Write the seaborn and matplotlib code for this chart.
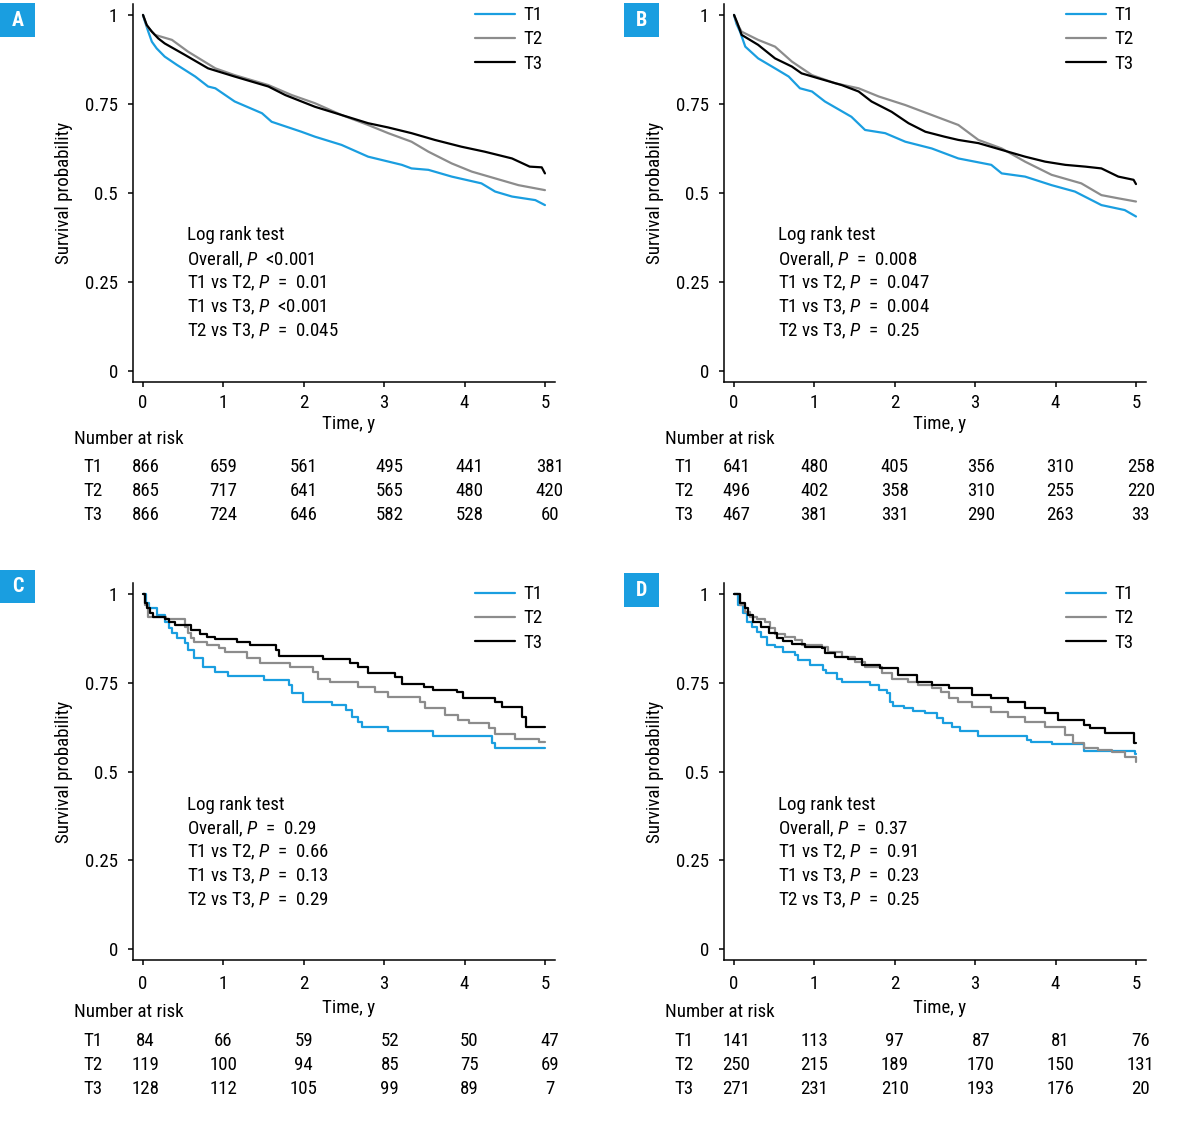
import os
import matplotlib
matplotlib.use('Agg')
import pandas as pd
import seaborn as sns
import matplotlib.pyplot as plt
from matplotlib import font_manager
from matplotlib.lines import Line2D
from matplotlib.patches import Rectangle

groups = ['T1', 'T2', 'T3']
comparisons = ['Overall', 'T1 vs T2', 'T1 vs T3', 'T2 vs T3']
x_ticks = [0, 1, 2, 3, 4, 5]
y_ticks = [0, 0.25, 0.5, 0.75, 1]
y_tick_labels = ['0', '0.25', '0.5', '0.75', '1']

# panel A
a_time_t1 = [0, 0.025, 0.066, 0.11, 0.17, 0.27, 0.42, 0.65, 0.81, 0.9, 1.14, 1.48, 1.6, 1.97, 2.14, 2.47, 2.8, 3.22, 3.34, 3.55, 3.84, 4.21, 4.38, 4.59, 4.88, 5.0]
a_surv_t1 = [1.0, 0.981, 0.953, 0.925, 0.906, 0.883, 0.86, 0.827, 0.799, 0.794, 0.757, 0.724, 0.70, 0.672, 0.658, 0.635, 0.602, 0.579, 0.569, 0.565, 0.546, 0.527, 0.504, 0.49, 0.48, 0.466]
a_time_t2 = [0, 0.05, 0.15, 0.36, 0.56, 0.9, 1.14, 1.56, 1.85, 2.14, 2.47, 2.8, 3.05, 3.34, 3.55, 3.84, 4.09, 4.38, 4.67, 5.0]
a_surv_t2 = [1.0, 0.968, 0.944, 0.93, 0.897, 0.85, 0.831, 0.803, 0.775, 0.752, 0.719, 0.691, 0.668, 0.644, 0.616, 0.583, 0.56, 0.541, 0.522, 0.508]
a_time_t3 = [0, 0.046, 0.11, 0.19, 0.27, 0.52, 0.81, 1.14, 1.56, 1.77, 2.14, 2.47, 2.8, 3.05, 3.34, 3.63, 3.96, 4.25, 4.59, 4.81, 4.96, 5.0]
a_surv_t3 = [1.0, 0.972, 0.953, 0.934, 0.92, 0.888, 0.85, 0.827, 0.799, 0.775, 0.742, 0.719, 0.696, 0.684, 0.668, 0.649, 0.63, 0.616, 0.597, 0.574, 0.572, 0.555]
a_risk_t1 = [866, 659, 561, 495, 441, 381]
a_risk_t2 = [865, 717, 641, 565, 480, 420]
a_risk_t3 = [866, 724, 646, 582, 528, 60]
a_pvals = ['<0.001', '=  0.01', '<0.001', '=  0.045']

# panel B
b_time_t1 = [0, 0.03, 0.075, 0.14, 0.3, 0.51, 0.68, 0.82, 0.97, 1.13, 1.46, 1.63, 1.88, 2.13, 2.46, 2.79, 3.2, 3.33, 3.62, 3.95, 4.24, 4.57, 4.86, 5.0]
b_surv_t1 = [1.0, 0.975, 0.953, 0.911, 0.878, 0.85, 0.827, 0.794, 0.785, 0.757, 0.714, 0.677, 0.668, 0.644, 0.625, 0.597, 0.579, 0.555, 0.546, 0.522, 0.504, 0.466, 0.452, 0.434]
b_time_t2 = [0, 0.04, 0.095, 0.3, 0.51, 0.72, 0.97, 1.26, 1.55, 1.8, 2.13, 2.46, 2.79, 3.04, 3.33, 3.62, 3.95, 4.32, 4.57, 4.78, 5.0]
b_surv_t2 = [1.0, 0.975, 0.953, 0.93, 0.911, 0.869, 0.831, 0.808, 0.794, 0.771, 0.747, 0.719, 0.691, 0.649, 0.625, 0.588, 0.551, 0.527, 0.494, 0.485, 0.476]
b_time_t3 = [0, 0.04, 0.095, 0.3, 0.51, 0.72, 0.84, 1.05, 1.34, 1.55, 1.71, 1.96, 2.17, 2.38, 2.62, 2.79, 3.04, 3.33, 3.62, 3.87, 4.12, 4.37, 4.57, 4.78, 4.97, 5.0]
b_surv_t3 = [1.0, 0.978, 0.944, 0.916, 0.878, 0.855, 0.836, 0.822, 0.803, 0.785, 0.757, 0.728, 0.696, 0.672, 0.658, 0.649, 0.64, 0.621, 0.602, 0.588, 0.579, 0.574, 0.569, 0.546, 0.537, 0.525]
b_risk_t1 = [641, 480, 405, 356, 310, 258]
b_risk_t2 = [496, 402, 358, 310, 255, 220]
b_risk_t3 = [467, 381, 331, 290, 263, 33]
b_pvals = ['=  0.008', '=  0.047', '=  0.004', '=  0.25']

# panel C (step curves)
c_time_t1 = [0, 0.04, 0.07, 0.17, 0.27, 0.32, 0.36, 0.42, 0.52, 0.56, 0.63, 0.75, 0.9, 1.06, 1.5, 1.82, 1.85, 1.99, 2.35, 2.53, 2.6, 2.68, 2.72, 3.05, 3.61, 4.34, 4.38, 5.0]
c_surv_t1 = [1.0, 0.974, 0.96, 0.941, 0.922, 0.903, 0.889, 0.877, 0.861, 0.842, 0.819, 0.795, 0.781, 0.77, 0.758, 0.744, 0.72, 0.697, 0.687, 0.673, 0.654, 0.64, 0.626, 0.614, 0.60, 0.579, 0.565, 0.565]
c_time_t2 = [0, 0.025, 0.066, 0.29, 0.52, 0.56, 0.6, 0.63, 0.79, 0.94, 1.02, 1.29, 1.46, 1.83, 2.12, 2.18, 2.33, 2.68, 2.89, 3.05, 3.45, 3.51, 3.76, 3.92, 4.05, 4.3, 4.38, 4.63, 4.92, 5.0]
c_surv_t2 = [1.0, 0.969, 0.936, 0.931, 0.908, 0.889, 0.875, 0.864, 0.856, 0.847, 0.838, 0.821, 0.805, 0.795, 0.779, 0.762, 0.753, 0.739, 0.723, 0.711, 0.697, 0.678, 0.659, 0.645, 0.636, 0.622, 0.606, 0.593, 0.582, 0.582]
c_time_t3 = [0, 0.025, 0.046, 0.087, 0.13, 0.27, 0.32, 0.4, 0.6, 0.71, 0.79, 0.9, 1.17, 1.33, 1.66, 1.69, 2.24, 2.58, 2.68, 2.8, 3.13, 3.22, 3.49, 3.61, 3.9, 3.98, 4.38, 4.46, 4.71, 4.77, 5.0]
c_surv_t3 = [1.0, 0.974, 0.96, 0.946, 0.934, 0.931, 0.922, 0.913, 0.899, 0.886, 0.878, 0.872, 0.866, 0.856, 0.842, 0.825, 0.817, 0.807, 0.795, 0.777, 0.767, 0.746, 0.737, 0.73, 0.723, 0.706, 0.697, 0.683, 0.654, 0.626, 0.626]
c_risk_t1 = [84, 66, 59, 52, 50, 47]
c_risk_t2 = [119, 100, 94, 85, 75, 69]
c_risk_t3 = [128, 112, 105, 99, 89, 7]
c_pvals = ['=  0.29', '=  0.66', '=  0.13', '=  0.29']

# panel D (step curves)
d_time_t1 = [0, 0.054, 0.116, 0.158, 0.22, 0.28, 0.34, 0.41, 0.51, 0.61, 0.76, 0.8, 0.95, 1.11, 1.15, 1.28, 1.34, 1.69, 1.8, 1.9, 1.94, 1.98, 2.11, 2.23, 2.38, 2.52, 2.6, 2.71, 2.81, 3.04, 3.64, 3.7, 3.95, 4.35, 4.99, 5.0]
d_surv_t1 = [1.0, 0.969, 0.946, 0.922, 0.908, 0.894, 0.88, 0.856, 0.852, 0.838, 0.828, 0.814, 0.80, 0.786, 0.777, 0.762, 0.751, 0.744, 0.73, 0.72, 0.697, 0.685, 0.678, 0.67, 0.664, 0.652, 0.636, 0.626, 0.615, 0.60, 0.589, 0.582, 0.577, 0.558, 0.548, 0.548]
d_time_t2 = [0, 0.075, 0.137, 0.2, 0.28, 0.39, 0.45, 0.51, 0.63, 0.76, 0.84, 1.09, 1.17, 1.34, 1.5, 1.63, 1.84, 1.96, 2.17, 2.29, 2.46, 2.58, 2.67, 2.79, 2.96, 3.2, 3.41, 3.62, 3.87, 4.12, 4.22, 4.35, 4.53, 4.7, 4.86, 5.0]
d_surv_t2 = [1.0, 0.969, 0.95, 0.936, 0.931, 0.922, 0.903, 0.886, 0.88, 0.87, 0.856, 0.852, 0.838, 0.823, 0.809, 0.795, 0.777, 0.762, 0.753, 0.744, 0.734, 0.725, 0.706, 0.695, 0.683, 0.669, 0.654, 0.64, 0.626, 0.603, 0.579, 0.565, 0.561, 0.556, 0.542, 0.528]
d_time_t3 = [0, 0.075, 0.137, 0.178, 0.24, 0.34, 0.43, 0.53, 0.61, 0.72, 0.88, 1.09, 1.13, 1.26, 1.42, 1.59, 1.82, 2.04, 2.27, 2.46, 2.67, 2.96, 3.2, 3.41, 3.62, 3.87, 4.03, 4.35, 4.43, 4.61, 4.98, 5.0]
d_surv_t3 = [1.0, 0.974, 0.96, 0.941, 0.922, 0.908, 0.889, 0.875, 0.867, 0.858, 0.852, 0.847, 0.833, 0.823, 0.817, 0.80, 0.791, 0.772, 0.753, 0.744, 0.734, 0.715, 0.706, 0.697, 0.678, 0.664, 0.645, 0.631, 0.622, 0.608, 0.579, 0.579]
d_risk_t1 = [141, 113, 97, 87, 81, 76]
d_risk_t2 = [250, 215, 189, 170, 150, 131]
d_risk_t3 = [271, 231, 210, 193, 176, 20]
d_pvals = ['=  0.37', '=  0.91', '=  0.23', '=  0.25']

BLUE = '#1a9ee0'
palette = {'T1': BLUE, 'T2': '#8c8c8c', 'T3': '#000000'}
FS = 13.6


def pick_font():
    # the original uses a condensed sans; take the narrowest one available
    fl = font_manager.fontManager.ttflist
    names = {f.name for f in fl}
    for cand in ['Liberation Sans Narrow', 'Roboto Condensed', 'DejaVu Sans Condensed', 'Open Sans Condensed']:
        if cand in names:
            return cand, 'normal'
    for f in fl:
        if f.name == 'DejaVu Sans' and 'Condensed' in os.path.basename(f.fname):
            return 'DejaVu Sans', f.stretch
    return 'Roboto', 'normal'


def set_style():
    sns.set_style("ticks", {'axes.spines.top': False, 'axes.spines.right': False})
    family, stretch = pick_font()
    plt.rcParams.update({
        'font.family': [family, 'DejaVu Sans'],
        'font.stretch': stretch,
        'mathtext.fontset': 'custom',
        'mathtext.rm': family,
        'mathtext.it': family + ':italic',
        'font.size': FS,
        'axes.edgecolor': 'black',
        'axes.labelcolor': 'black',
        'text.color': 'black',
        'xtick.color': 'black',
        'ytick.color': 'black',
        'axes.linewidth': 1.1,
        'xtick.major.width': 1.1,
        'ytick.major.width': 1.1,
        'xtick.major.size': 3.6,
        'ytick.major.size': 3.6,
        'xtick.labelsize': FS,
        'ytick.labelsize': FS,
        'axes.labelsize': FS,
    })


def km_frame(times, survs):
    rows = []
    for g, t, s in zip(groups, times, survs):
        for ti, si in zip(t, s):
            rows.append({'time': ti, 'surv': si, 'group': g})
    return pd.DataFrame(rows)


def plot_panel(fig, rect, letter, box, times, survs, steps, risk, pvals, text_y, lay):
    ax = fig.add_axes(rect)
    df = km_frame(times, survs)
    kw = {'drawstyle': 'steps-post'} if steps else {}
    sns.lineplot(data=df, x='time', y='surv', hue='group', hue_order=groups, palette=palette,
                 estimator=None, sort=False, errorbar=None, legend=False, linewidth=1.6, ax=ax, **kw)
    ax.set_xlim(-0.12, 5.12)
    ax.set_ylim(-0.03, 1.03)
    ax.set_xticks(x_ticks)
    ax.set_xticklabels([str(v) for v in x_ticks])
    ax.set_yticks(y_ticks)
    ax.set_yticklabels(y_tick_labels)
    ax.tick_params(axis='y', pad=7.5, direction='out')
    ax.tick_params(axis='x', pad=lay['tick_pad'], direction='out')
    ax.set_ylabel('Survival probability')
    ax.yaxis.set_label_coords(-0.143, 0.5)
    ax.set_xlabel('Time, y')
    ax.xaxis.set_label_coords(0.51, lay['xlabel_y'])

    handles = [Line2D([], [], color=palette[g], lw=1.6) for g in groups]
    ax.legend(handles, groups, loc='upper right', bbox_to_anchor=(0.972, 0.995), frameon=False,
              borderpad=0, borderaxespad=0, handlelength=2.1, handletextpad=0.47, labelspacing=0.33)

    lines = ['Log rank test'] + [f'{c}, $P$  {p}' for c, p in zip(comparisons, pvals)]
    for i, line in enumerate(lines):
        ax.annotate(line, xy=(0.55, text_y), xycoords='data', xytext=(0, -i * 17.3),
                    textcoords='offset points', ha='left', va='center')

    # number at risk table below the axis
    col_x = [0.03, 1.0, 2.0, 3.07, 4.06, 5.06]
    ax.annotate('Number at risk', xy=(-0.86, 0), xycoords=('data', 'axes fraction'),
                xytext=(0, lay['nar']), textcoords='offset points', ha='left', va='center',
                annotation_clip=False)
    for r, (g, counts) in enumerate(zip(groups, risk)):
        off = lay['rows'][r]
        ax.annotate(g, xy=(-0.62, 0), xycoords=('data', 'axes fraction'), xytext=(0, off),
                    textcoords='offset points', ha='center', va='center', annotation_clip=False)
        for cx, n in zip(col_x, counts):
            ax.annotate(str(n), xy=(cx, 0), xycoords=('data', 'axes fraction'), xytext=(0, off),
                        textcoords='offset points', ha='center', va='center', annotation_clip=False)

    bx, by, bw, bh = box
    fig.add_artist(Rectangle((bx, by), bw, bh, transform=fig.transFigure, color=BLUE, lw=0))
    fig.text(bx + bw / 2, by + bh / 2, letter, color='white', fontweight='bold', fontsize=14.5,
             ha='center', va='center')
    return ax


def main():
    set_style()
    fig = plt.figure(figsize=(11.79, 11.21), dpi=100)

    top = {'tick_pad': 5.6, 'xlabel_y': -0.088, 'nar': -41.0, 'rows': [-61.2, -78.4, -95.7]}
    bottom = {'tick_pad': 7.7, 'xlabel_y': -0.104, 'nar': -37.4, 'rows': [-58.3, -75.6, -92.8]}

    plot_panel(fig, [0.1131, 0.6595, 0.3573, 0.3367], 'A', (0.0, 0.967, 0.0297, 0.0303),
               [a_time_t1, a_time_t2, a_time_t3], [a_surv_t1, a_surv_t2, a_surv_t3], False,
               [a_risk_t1, a_risk_t2, a_risk_t3], a_pvals, 0.381, top)
    plot_panel(fig, [0.6144, 0.6595, 0.3573, 0.3367], 'B', (0.5293, 0.967, 0.0297, 0.0303),
               [b_time_t1, b_time_t2, b_time_t3], [b_surv_t1, b_surv_t2, b_surv_t3], False,
               [b_risk_t1, b_risk_t2, b_risk_t3], b_pvals, 0.381, top)
    plot_panel(fig, [0.1131, 0.1439, 0.3573, 0.3357], 'C', (0.0, 0.4621, 0.0297, 0.0295),
               [c_time_t1, c_time_t2, c_time_t3], [c_surv_t1, c_surv_t2, c_surv_t3], True,
               [c_risk_t1, c_risk_t2, c_risk_t3], c_pvals, 0.407, bottom)
    plot_panel(fig, [0.6144, 0.1439, 0.3573, 0.3357], 'D', (0.5293, 0.4585, 0.0297, 0.0303),
               [d_time_t1, d_time_t2, d_time_t3], [d_surv_t1, d_surv_t2, d_surv_t3], True,
               [d_risk_t1, d_risk_t2, d_risk_t3], d_pvals, 0.407, bottom)

    fig.savefig('out.png', dpi=100)


if __name__ == "__main__":
    main()
